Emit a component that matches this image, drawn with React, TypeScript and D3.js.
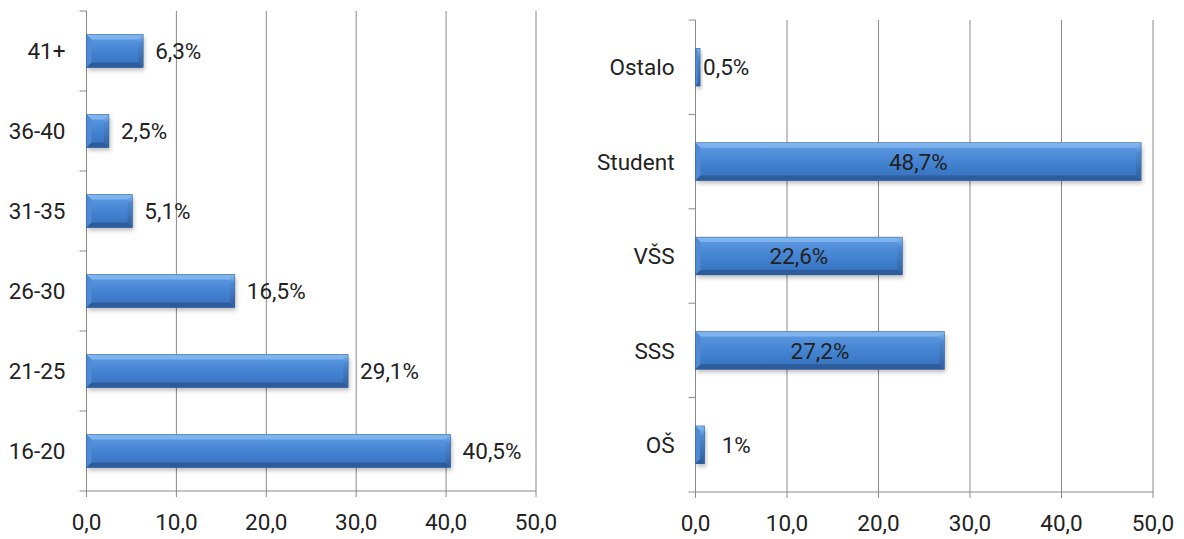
import React from "react";
import * as d3 from "d3";

const ageCategories = ["41+", "36-40", "31-35", "26-30", "21-25", "16-20"];
const ageValues = [6.3, 2.5, 5.1, 16.5, 29.1, 40.5];
const ageLabelModes = ["out", "out", "out", "out", "out", "out"];

const eduCategories = ["Ostalo", "Student", "VŠS", "SSS", "OŠ"];
const eduValues = [0.5, 48.7, 22.6, 27.2, 1];
const eduLabelModes = ["adjacent", "center", "center", "center", "far"];

const xTickValues = [0, 10, 20, 30, 40, 50];

const FONT = "Roboto, 'Open Sans', sans-serif";
const FS = 22.5;
const GRID = "#8a8a8a";
const TXT = "#222";

const fmtTick = (v: number) => d3.format(".1f")(v).replace(".", ",");
const fmtLabel = (v: number) => String(v).replace(".", ",") + "%";

function Bar({ x, y, w, h }: { x: number; y: number; w: number; h: number }) {
  const b = Math.min(5, w / 2, h / 2);
  const x1 = x + w;
  const y1 = y + h;
  return (
    <g>
      <rect x={x + 1.5} y={y + 3} width={w} height={h} fill="rgba(0,0,0,0.25)" filter="url(#shadowBlur)" />
      <rect x={x} y={y} width={w} height={h} fill="url(#barGrad)" />
      <polygon points={`${x},${y} ${x1},${y} ${x1 - b},${y + b} ${x + b},${y + b}`} fill="#7fb3ee" />
      <polygon points={`${x},${y} ${x + b},${y + b} ${x + b},${y1 - b} ${x},${y1}`} fill="#4f8bd4" />
      <polygon points={`${x},${y1} ${x + b},${y1 - b} ${x1 - b},${y1 - b} ${x1},${y1}`} fill="#2d5c9c" />
      <polygon points={`${x1},${y} ${x1},${y1} ${x1 - b},${y1 - b} ${x1 - b},${y + b}`} fill="url(#rightGrad)" />
      <rect x={x} y={y} width={w} height={h} fill="none" stroke="#2f5e9c" strokeWidth={0.5} />
    </g>
  );
}

function HBarChart({
  cats, vals, modes, x0, x1, top, bottom, padding,
}: {
  cats: string[]; vals: number[]; modes: string[]; x0: number; x1: number; top: number; bottom: number; padding: number;
}) {
  const xs = d3.scaleLinear().domain([0, 50]).range([x0, x1]);
  const ys = d3.scaleBand<string>().domain(cats).range([top, bottom]).paddingInner(padding).paddingOuter(padding / 2);
  const step = ys.step();
  const boundaries = d3.range(cats.length + 1).map((i) => top + i * step);
  return (
    <g>
      {xTickValues.map((t) => (
        <line key={"g" + t} x1={xs(t)} x2={xs(t)} y1={top} y2={bottom + 6} stroke={GRID} strokeWidth={1} />
      ))}
      <line x1={x0} x2={x0} y1={top} y2={bottom} stroke={GRID} />
      <line x1={x0} x2={x1} y1={bottom} y2={bottom} stroke={GRID} />
      {boundaries.map((b, i) => (
        <line key={"yt" + i} x1={x0 - 7} x2={x0} y1={b} y2={b} stroke={GRID} />
      ))}
      {xTickValues.map((t) => (
        <text key={"tl" + t} x={xs(t)} y={bottom + 39} textAnchor="middle" fontFamily={FONT} fontSize={FS} fill={TXT}>
          {fmtTick(t)}
        </text>
      ))}
      {cats.map((c) => (
        <text key={"cl" + c} x={x0 - 21} y={(ys(c) as number) + ys.bandwidth() / 2} dy="0.36em" textAnchor="end" fontFamily={FONT} fontSize={FS} fill={TXT}>
          {c}
        </text>
      ))}
      {cats.map((c, i) => (
        <Bar key={"b" + c} x={xs(0)} y={ys(c) as number} w={xs(vals[i]) - xs(0)} h={ys.bandwidth()} />
      ))}
      {cats.map((c, i) => {
        const cy = (ys(c) as number) + ys.bandwidth() / 2;
        const mode = modes[i];
        let lx = xs(vals[i]) + 12;
        let anchor = "start";
        if (mode === "center") {
          lx = (xs(0) + xs(vals[i])) / 2;
          anchor = "middle";
        } else if (mode === "adjacent") {
          lx = xs(vals[i]) + 3;
        } else if (mode === "far") {
          lx = xs(vals[i]) + 17;
        }
        return (
          <text key={"vl" + c} x={lx} y={cy} dy="0.36em" textAnchor={anchor} fontFamily={FONT} fontSize={FS} fill={TXT}>
            {fmtLabel(vals[i])}
          </text>
        );
      })}
    </g>
  );
}

export default function App() {
  return (
    <svg width={1184} height={539} style={{ position: "absolute", left: 0, top: 0, background: "#fff" }}>
      <defs>
        <linearGradient id="barGrad" x1="0" y1="0" x2="0" y2="1">
          <stop offset="0%" stopColor="#6aa4e8" />
          <stop offset="20%" stopColor="#5592dc" />
          <stop offset="55%" stopColor="#4282d0" />
          <stop offset="85%" stopColor="#3a76c2" />
          <stop offset="100%" stopColor="#3166ac" />
        </linearGradient>
        <linearGradient id="rightGrad" x1="0" y1="0" x2="0" y2="1">
          <stop offset="0%" stopColor="#8cbcf2" />
          <stop offset="25%" stopColor="#4f8ad2" />
          <stop offset="100%" stopColor="#2f5e9c" />
        </linearGradient>
        <filter id="shadowBlur" x="-10%" y="-30%" width="130%" height="180%">
          <feGaussianBlur stdDeviation="2" />
        </filter>
      </defs>
      <HBarChart cats={ageCategories} vals={ageValues} modes={ageLabelModes} x0={86.5} x1={536} top={11} bottom={491} padding={0.5875} />
      <HBarChart cats={eduCategories} vals={eduValues} modes={eduLabelModes} x0={695.5} x1={1153} top={20} bottom={492} padding={0.6} />
    </svg>
  );
}
